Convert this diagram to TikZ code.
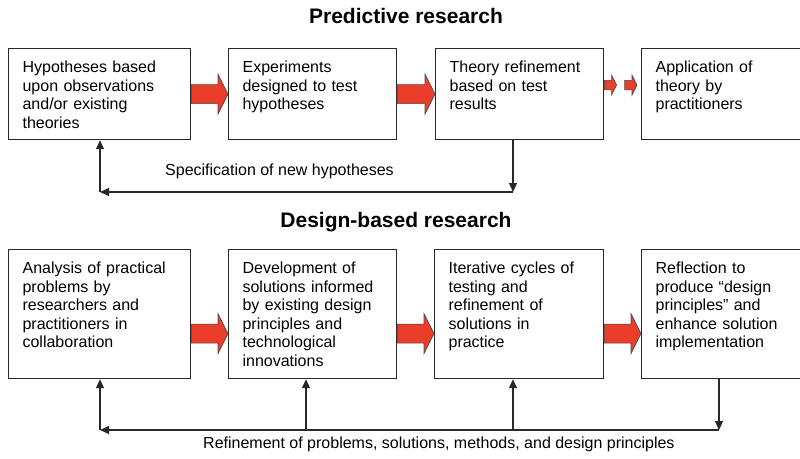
\documentclass[tikz,border=0pt]{standalone}
\usepackage{fontspec}
\setmainfont{Liberation Sans}
\usetikzlibrary{arrows.meta,calc}

\definecolor{arrowred}{RGB}{234,62,42}
\definecolor{edge}{RGB}{40,40,40}

\tikzset{
  stage/.style={draw=edge, line width=1.2pt, anchor=north west, align=left,
    inner xsep=14pt, inner ysep=6pt, text height=18pt,
    font=\fontsize{16}{18.5}\selectfont},
  stagetop/.style={stage, text depth=61pt},
  stagebot/.style={stage, text depth=99pt},
  caption/.style={inner sep=0pt, anchor=base west, font=\fontsize{16}{18.5}\selectfont},
  heading/.style={inner sep=0pt, anchor=base, font=\fontsize{21}{24}\selectfont\bfseries},
  fb/.style={draw=edge, line width=1.2pt, -{Triangle[length=9pt,width=8pt]}},
  redarrow/.style={draw=black!70, fill=arrowred, line width=0.6pt,
    to path={let \p1=(\tikztostart), \p2=(\tikztotarget) in
      (\x1,{\y1+9.5pt*#1}) -- ({\x2-10pt*#1},{\y1+9.5pt*#1}) -- ({\x2-10pt*#1},{\y1+20pt*#1})
      -- (\x2,\y1) -- ({\x2-10pt*#1},{\y1-20pt*#1}) -- ({\x2-10pt*#1},{\y1-9.5pt*#1})
      -- (\x1,{\y1-9.5pt*#1}) -- cycle}},
  redarrow/.default=1
}

\begin{document}
\begin{tikzpicture}[x=1pt, y=-1pt]
\path[use as bounding box, clip] (0,0) rectangle (800,458);

% Predictive research
\node[heading] (ptitle) at (406,23) {Predictive research};
\node[stagetop, text width=154pt] (t1) at (8,48) {Hypotheses based\\upon observations\\and/or existing\\theories};
\node[stagetop, text width=140pt] (t2) at (228,48) {Experiments\\designed to test\\hypotheses};
\node[stagetop, text width=140pt] (t3) at (435,48) {Theory refinement\\based on test\\results};
\node[stagetop, text width=142pt] (t4) at (641,48) {Application of\\theory by\\practitioners};

\draw[redarrow] (t1.east) to (t2.west);
\draw[redarrow] (t2.east) to (t3.west);
\coordinate (mid) at ($(t3.east)!0.5!(t4.west)$);
\draw[redarrow=0.5] ([yshift=9pt]t3.east) to ([xshift=-6pt]mid);
\draw[redarrow=0.5] ([shift={(2pt,9pt)}]mid) to ([xshift=-4pt]t4.west);

% Specification loop
\coordinate (s1) at (100,192);
\coordinate (s3) at (513,192);
\draw[fb] (s3 |- t3.south) -- (s3);
\draw[fb] (s3) -- (s1);
\draw[fb] (s1) -- (s1 |- t1.south);
\node[caption] (spec) at (165,175) {Specification of new hypotheses};

% Design-based research
\node[heading] (dtitle) at (396,227) {Design-based research};
\node[stagebot, text width=154pt] (b1) at (8,249) {Analysis of practical\\problems by\\researchers and\\practitioners in\\collaboration};
\node[stagebot, text width=140pt] (b2) at (228,249) {Development of\\solutions informed\\by existing design\\principles and\\technological\\innovations};
\node[stagebot, text width=141pt] (b3) at (434,249) {Iterative cycles of\\testing and\\refinement of\\solutions in\\practice};
\node[stagebot, text width=142pt] (b4) at (641,249) {Reflection to\\produce “design\\principles” and\\enhance solution\\implementation};

\draw[redarrow] ([yshift=-19.5pt]b1.east) to (b2.west);
\draw[redarrow] ([yshift=-19.5pt]b2.east) to (b3.west);
\draw[redarrow] ([yshift=-19.5pt]b3.east) to (b4.west);

% Refinement loop
\coordinate (r1) at (100,430);
\coordinate (r2) at (306,430);
\coordinate (r3) at (513,430);
\coordinate (r4) at (719,430);
\draw[fb] (r4 |- b4.south) -- (r4);
\draw[fb] (r4) -- (r1);
\draw[fb] (r1) -- (r1 |- b1.south);
\draw[fb] (r2) -- (r2 |- b2.south);
\draw[fb] (r3) -- (r3 |- b3.south);
\node[caption] (refine) at (203,448) {Refinement of problems, solutions, methods, and design principles};
\end{tikzpicture}
\end{document}
